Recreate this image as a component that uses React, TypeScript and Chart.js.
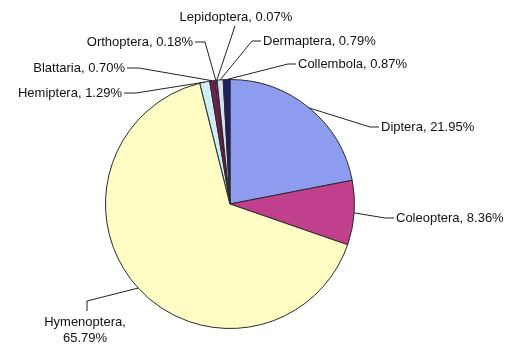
import React, { useEffect, useRef } from "react";
import { Chart, registerables } from "chart.js";

Chart.register(...registerables);

// Share of captured specimens by insect order (%)
const categories = [
  "Diptera",
  "Coleoptera",
  "Hymenoptera",
  "Hemiptera",
  "Blattaria",
  "Orthoptera",
  "Lepidoptera",
  "Dermaptera",
  "Collembola",
];
const percentages = [21.95, 8.36, 65.79, 1.29, 0.7, 0.18, 0.07, 0.79, 0.87];
const sliceColors = [
  "#8e9cf0",
  "#c0408e",
  "#fffdc4",
  "#cdeff5",
  "#7a1a50",
  "#e07080",
  "#3060c0",
  "#d8dcf4",
  "#1a2060",
];

type LabelPlace = {
  x: number;
  y: number;
  align: CanvasTextAlign;
  elbow: [number, number];
  end: [number, number];
  split?: boolean;
};

// Where each data label sits and how its leader line bends
const labelPlaces: LabelPlace[] = [
  { x: 381, y: 127, align: "left", elbow: [370, 127], end: [379, 127] },
  { x: 396, y: 218, align: "left", elbow: [385, 218], end: [394, 218] },
  { x: 85, y: 322, align: "center", elbow: [87, 301], end: [87, 311], split: true },
  { x: 122, y: 93, align: "right", elbow: [136, 93], end: [124, 93] },
  { x: 125, y: 68, align: "right", elbow: [139, 68], end: [127, 68] },
  { x: 193, y: 42, align: "right", elbow: [205, 42], end: [195, 42] },
  { x: 236, y: 17, align: "center", elbow: [235, 26], end: [235, 26] },
  { x: 263, y: 41, align: "left", elbow: [252, 41], end: [261, 41] },
  { x: 298, y: 64, align: "left", elbow: [288, 64], end: [296, 64] },
];

const leaderLabels = {
  id: "leaderLabels",
  afterDraw(chart: Chart) {
    const ctx = chart.ctx;
    const meta = chart.getDatasetMeta(0);
    ctx.save();
    ctx.strokeStyle = "#222";
    ctx.lineWidth = 1;
    ctx.fillStyle = "#111";
    ctx.font = '13px "Liberation Sans", Arial, sans-serif';
    ctx.textBaseline = "middle";
    meta.data.forEach((el: any, i: number) => {
      const place = labelPlaces[i];
      if (!place) return;
      const mid = (el.startAngle + el.endAngle) / 2;
      const px = el.x + Math.cos(mid) * el.outerRadius;
      const py = el.y + Math.sin(mid) * el.outerRadius;
      ctx.beginPath();
      ctx.moveTo(px, py);
      ctx.lineTo(place.elbow[0], place.elbow[1]);
      ctx.lineTo(place.end[0], place.end[1]);
      ctx.stroke();
      const pct = percentages[i].toFixed(2) + "%";
      ctx.textAlign = place.align;
      if (place.split) {
        ctx.fillText(categories[i] + ",", place.x, place.y);
        ctx.fillText(pct, place.x, place.y + 16);
      } else {
        ctx.fillText(categories[i] + ", " + pct, place.x, place.y);
      }
    });
    ctx.restore();
  },
};

export default function App() {
  const canvasRef = useRef<HTMLCanvasElement | null>(null);

  useEffect(() => {
    if (!canvasRef.current) return;
    const chart = new Chart(canvasRef.current, {
      type: "pie",
      data: {
        labels: categories,
        datasets: [
          {
            data: percentages,
            backgroundColor: sliceColors,
            borderColor: "#2a2a2a",
            borderWidth: 1,
          },
        ],
      },
      options: {
        responsive: false,
        animation: false,
        layout: { padding: { left: 105, right: 156, top: 79, bottom: 18 } },
        plugins: {
          legend: { display: false },
          tooltip: { enabled: false },
        },
      },
      plugins: [leaderLabels],
    });
    return () => chart.destroy();
  }, []);

  return (
    <div style={{ position: "absolute", left: 0, top: 0, width: 511, height: 347, background: "#fff" }}>
      <canvas ref={canvasRef} width={511} height={347} style={{ display: "block" }} />
    </div>
  );
}
